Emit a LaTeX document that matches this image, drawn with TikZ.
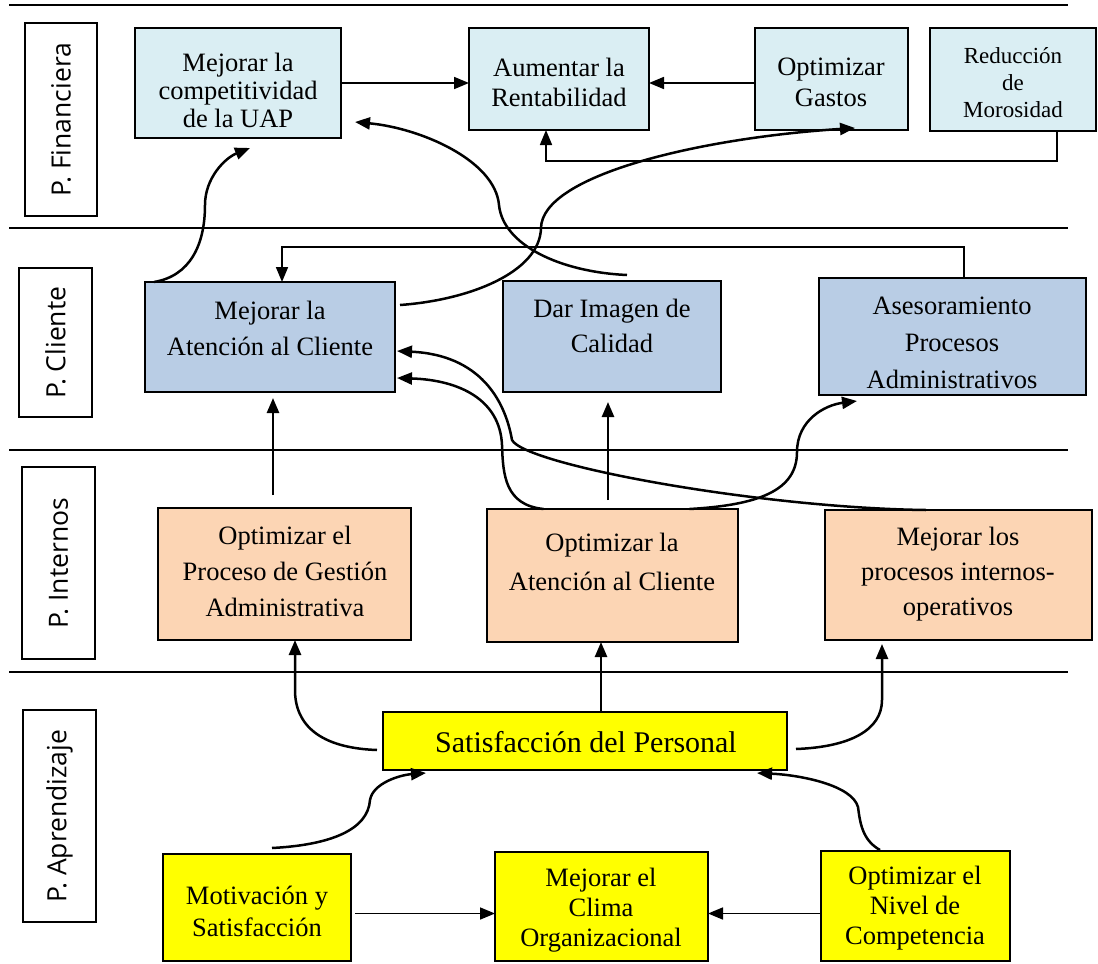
\documentclass[tikz,border=0pt]{standalone}
\usepackage{fontspec}
\setmainfont{Liberation Serif}
\newfontfamily\lsans{Open Sans}
\usetikzlibrary{arrows.meta}
\definecolor{fin}{HTML}{DAEEF3}
\definecolor{cli}{HTML}{B9CDE5}
\definecolor{inte}{HTML}{FCD5B4}
\definecolor{apr}{HTML}{FFFF00}
\begin{document}
\begin{tikzpicture}[x=1pt,y=-1pt,
  boxnode/.style={draw=black,line width=2.6pt,inner sep=0pt,outer sep=0pt,anchor=north west},
  lbl/.style={draw=black,line width=2.6pt,fill=white,inner sep=0pt,outer sep=0pt,rotate=90,font=\lsans\fontsize{26.5}{30}\selectfont},
  txt/.style={align=center,inner sep=0pt,font=\fontsize{26.5}{#1}\selectfont},
  divider/.style={line width=2pt},
  conn/.style={line width=2.5pt,-{Triangle[length=15pt,width=12pt]}},
  thinconn/.style={line width=1.7pt,-{Triangle[length=15pt,width=12pt]}}
]
\useasboundingbox (0,0) rectangle (1098,964);
\fill[white] (0,0) rectangle (1098,964);

% dividers
\draw[divider] (9,5) -- (1068,5);
\draw[divider] (9,228) -- (1068,228);
\draw[divider] (9,450) -- (1068,450);
\draw[divider] (9,672) -- (1068,672);

% lane labels
\node[lbl,minimum width=193,minimum height=72] (PF) at (61,119.5) {P. Financiera};
\node[lbl,minimum width=149,minimum height=73] (PC) at (55.5,342.5) {P. Cliente};
\node[lbl,minimum width=192,minimum height=73] (PI) at (58.5,563) {P. Internos};
\node[lbl,minimum width=212,minimum height=73] (PA) at (59.5,816) {P. Aprendizaje};

% row 1
\node[boxnode,fill=fin,minimum width=206,minimum height=110] (A) at (135,28) {};
\node[boxnode,fill=fin,minimum width=180,minimum height=102] (B) at (469,28) {};
\node[boxnode,fill=fin,minimum width=153,minimum height=102] (C) at (755,28) {};
\node[boxnode,fill=fin,minimum width=166,minimum height=103] (D) at (930,28) {};
\node[txt=28] (At) at (238,90) {Mejorar la\\competitividad\\de la UAP};
\node[txt=30] (Bt) at (559,82) {Aumentar la\\Rentabilidad};
\node[txt=31] (Ct) at (831,82) {Optimizar\\Gastos};
\node[align=center,inner sep=0pt,font=\fontsize{23}{27}\selectfont] (Dt) at (1013,83) {Reducción\\de\\Morosidad};

% row 2
\node[boxnode,fill=cli,minimum width=250,minimum height=110] (E) at (145,282) {};
\node[boxnode,fill=cli,minimum width=218,minimum height=111] (F) at (503,281) {};
\node[boxnode,fill=cli,minimum width=267,minimum height=117] (G) at (819,278) {};
\node[txt=36] (Et) at (270,328) {Mejorar la\\Atención al Cliente};
\node[txt=35] (Ft) at (612,326) {Dar Imagen de\\Calidad};
\node[txt=37] (Gt) at (952,343) {Asesoramiento\\Procesos\\Administrativos};

% row 3
\node[boxnode,fill=inte,minimum width=253,minimum height=132] (H) at (158,508) {};
\node[boxnode,fill=inte,minimum width=251,minimum height=133] (I) at (487,509) {};
\node[boxnode,fill=inte,minimum width=267,minimum height=130] (J) at (825,510) {};
\node[txt=36] (Ht) at (285,571) {Optimizar el\\Proceso de Gestión\\Administrativa};
\node[txt=39] (It) at (612,562) {Optimizar la\\Atención al Cliente};
\node[txt=35] (Jt) at (958,574) {Mejorar los\\procesos internos-\\operativos};

% row 4
\node[boxnode,fill=apr,minimum width=404,minimum height=58] (K) at (383,712) {};
\node[inner sep=0pt,font=\fontsize{30}{34}\selectfont] (Kt) at (586,742) {Satisfacción del Personal};
\node[boxnode,fill=apr,minimum width=188,minimum height=107] (L) at (163,854) {};
\node[boxnode,fill=apr,minimum width=213,minimum height=109] (M) at (495,852) {};
\node[boxnode,fill=apr,minimum width=189,minimum height=110] (N) at (821,851) {};
\node[txt=32] (Lt) at (257,911) {Motivación y\\Satisfacción};
\node[txt=30] (Mt) at (601,910) {Mejorar el\\Clima\\Organizacional};
\node[txt=30] (Nt) at (915,908) {Optimizar el\\Nivel de\\Competencia};

% row 1 connectors
\draw[thinconn] (A.east) -- (A.east -| B.west);
\draw[thinconn] (C.west |- A.east) -- (B.east |- A.east);
\coordinate (db1) at (1057,161);
\coordinate (db2) at (546,161);
\draw[thinconn] (db1 |- D.south) -- (db1) -- (db2) -- (db2 |- B.south);

% row 2 connectors
\coordinate (ge1) at (964,247);
\coordinate (ge2) at (282,247);
\draw[thinconn] (ge1 |- G.north) -- (ge1) -- (ge2) -- (ge2 |- E.north);
\draw[conn] ([xshift=9pt]E.north west) .. controls (190,276) and (205,245) .. (205,205)
  .. controls (205,178) and (225,158) .. ([xshift=115pt,yshift=-10pt]A.south west);
\draw[conn] ([xshift=15pt,yshift=6pt]F.north) .. controls (560,272) and (503,245) .. (499,205)
  .. controls (495,160) and (420,128) .. ([xshift=14pt,yshift=16pt]A.south east);
\draw[conn] ([xshift=5pt,yshift=-23pt]E.north east) .. controls (470,300) and (540,272) .. (541,228)
  .. controls (542,175) and (700,138) .. ([xshift=23.5pt,yshift=2pt]C.south);

% row 3 -> row 2
\coordinate (he) at (273,495);
\draw[conn,shorten >=6pt] (he) -- (he |- E.south);
\coordinate (if) at (608,500);
\draw[conn,shorten >=10pt] (if) -- (if |- F.south);
\draw[conn] ([xshift=-32.5pt]J.north) .. controls (760,508) and (525,465) .. (512,440)
  .. controls (505,400) and (480,355) .. ([xshift=2pt,yshift=-14pt]E.east);
\draw[conn] ([xshift=-69pt]I.north) .. controls (505,505) and (503,475) .. (502,445)
  .. controls (500,400) and (460,380) .. ([xshift=2pt,yshift=-41pt]E.east);
\draw[conn] ([xshift=77pt]I.north) .. controls (760,505) and (797,490) .. (797,452)
  .. controls (797,420) and (825,405) .. ([xshift=38pt,yshift=-6pt]G.south west);

% row 4 -> row 3
\draw[conn] ([xshift=-6pt,yshift=-9pt]K.west) .. controls (320,748) and (295,725) .. (295,690)
  -- ([xshift=10.5pt]H.south);
\draw[conn] ([xshift=16pt]K.north) -- ([xshift=16pt]K.north |- I.south);
\draw[conn] ([xshift=9pt,yshift=-8pt]K.east) .. controls (850,747) and (882,730) .. (882,700)
  -- ([xshift=-76.5pt,yshift=-4pt]J.south);

% row 4 internal
\draw[conn] ([xshift=15pt,yshift=6pt]L.north) .. controls (330,845) and (368,830) .. (370,800)
  .. controls (373,783) and (400,775) .. ([xshift=43pt,yshift=-3pt]K.south west);
\draw[conn] ([xshift=-35.5pt,yshift=1pt]N.north) .. controls (862,840) and (860,822) .. (858,807)
  .. controls (852,785) and (800,775) .. ([xshift=-30pt,yshift=-3pt]K.south east);
\draw[thinconn] ([xshift=4pt,yshift=-6pt]L.east) -- ([yshift=-6pt]L.east -| M.west);
\draw[thinconn] ([yshift=-7.5pt]N.west) -- ([yshift=-7.5pt]N.west -| M.east);
\end{tikzpicture}
\end{document}
